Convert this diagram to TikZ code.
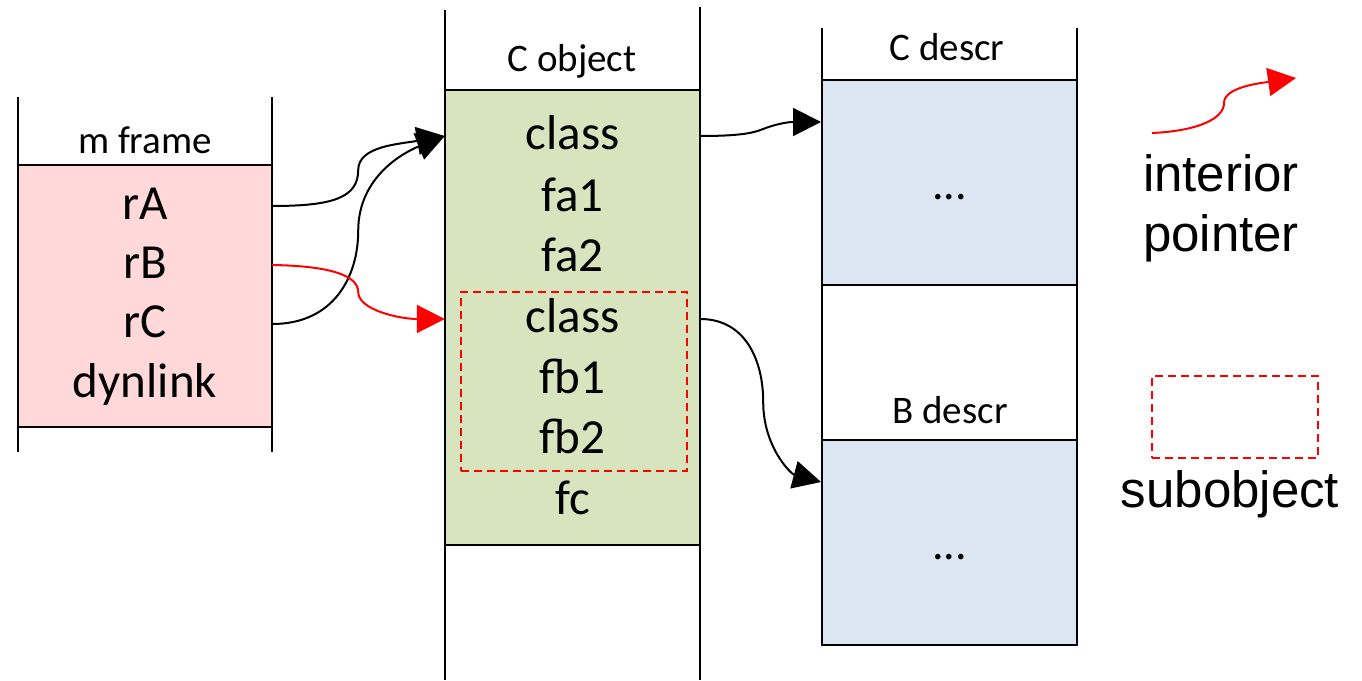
\documentclass[tikz,border=0pt]{standalone}
\usepackage{fontspec}
\setmainfont{Carlito}
\newfontfamily\legendfont{Liberation Sans}
\usetikzlibrary{arrows.meta,calc}
\definecolor{pinkfill}{HTML}{FFD9D9}
\definecolor{greenfill}{HTML}{D7E4BD}
\definecolor{bluefill}{HTML}{DCE6F2}
\definecolor{ptrred}{HTML}{FF0000}
\begin{document}
\begin{tikzpicture}[x=1pt,y=-1pt,
  frameline/.style={line width=2pt},
  areabox/.style={draw, line width=2pt, inner sep=0pt, minimum width=254pt},
  rowitem/.style={inner sep=0pt, minimum width=254pt, minimum height=58pt,
    text height=36pt, text depth=10pt, font=\fontsize{49}{52}\selectfont},
  hdr/.style={inner sep=0pt, font=\fontsize{39}{42}\selectfont},
  dots/.style={inner sep=0pt, text height=30pt, text depth=0pt, font=\fontsize{46}{48}\selectfont},
  ptr/.style={line width=2pt, -{Triangle[length=28pt,width=28pt]}},
  iptr/.style={ptr, ptrred},
  subbox/.style={draw=ptrred, line width=2pt, dash pattern=on 8pt off 5pt, inner sep=0pt},
  legtext/.style={font=\legendfont\fontsize{51}{60}\selectfont, align=center, inner sep=0pt}
]
\useasboundingbox (0,0) rectangle (1362,680);

% ---------- m frame ----------
\node[areabox, fill=pinkfill, minimum height=262pt] (mbox) at (145,296) {};
\draw[frameline] (18,97) -- (18,452);
\draw[frameline] (272,97) -- (272,452);
\node[hdr] (mhdr) at (145,140) {m frame};
\node[rowitem] (rA) at (145,206) {rA};
\node[rowitem] (rB) at (145,265) {rB};
\node[rowitem] (rC) at (145,324) {rC};
\node[rowitem] (dyn) at (145,384) {dynlink};

% ---------- C object ----------
\node[areabox, fill=greenfill, minimum width=255pt, minimum height=455pt] (cobj) at (572.5,317.5) {};
\draw[frameline] (445,10) -- (445,680);
\draw[frameline] (700,7) -- (700,680);
\node[hdr] (chdr) at (572,61) {C object};
\node[subbox, minimum width=226pt, minimum height=179pt] (sub) at (574,381.5) {};
\node[rowitem, minimum width=255pt] (c1) at (572.5,136) {class};
\node[rowitem, minimum width=255pt] (c2) at (572.5,198) {fa1};
\node[rowitem, minimum width=255pt] (c3) at (572.5,258) {fa2};
\node[rowitem, minimum width=255pt] (c4) at (572.5,319) {class};
\node[rowitem, minimum width=255pt] (c5) at (572.5,380) {fb1};
\node[rowitem, minimum width=255pt] (c6) at (572.5,440) {fb2};
\node[rowitem, minimum width=255pt] (c7) at (572.5,501) {fc};

% ---------- descriptors ----------
\node[areabox, fill=bluefill, minimum width=255pt, minimum height=205pt] (cdescr) at (949.5,182.5) {};
\node[areabox, fill=bluefill, minimum width=255pt, minimum height=205pt] (bdescr) at (949.5,542.5) {};
\node[dots] (cdots) at (949.5,184) {...};
\node[dots] (bdots) at (949.5,544) {...};
\draw[frameline] (822,28) -- (822,645);
\draw[frameline] (1077,28) -- (1077,645);
\node[hdr] (cdhdr) at (947,47) {C descr};
\node[hdr] (bdhdr) at (950,410) {B descr};

% ---------- pointers ----------
\draw[ptr] (rA.east) .. controls +(60,0) and +(0,28) .. ++(86,-36)
  .. controls +(0,-24) and +(-45,8) .. (c1.west);
\draw[ptr] (rC.east) .. controls +(62,0) and +(0,45) .. ++(86,-93)
  .. controls +(0,-55) and +(-40,16) .. (c1.west);
\draw[iptr] (rB.east) .. controls +(60,1) and +(0,-16) .. ++(86,27)
  .. controls +(0,18) and +(-45,0) .. (c4.west);
\draw[ptr] (c1.east) .. controls +(40,0) and +(-10,4) .. ++(63,-7)
  .. controls +(10,-4) and +(-35,0) .. ($(cdescr.north west)+(0,43)$);
\draw[ptr] (c4.east) .. controls +(45,0) and +(0,-42) .. ++(63,83)
  .. controls +(0,45) and +(-30,-8) .. ($(bdescr.north west)+(0,43)$);

% ---------- legend ----------
\coordinate (legA) at (1152,133);
\coordinate (legB) at (1296,78);
\draw[iptr] (legA) .. controls +(45,-2) and +(0,16) .. ++(72,-30)
  .. controls +(0,-16) and +(-35,5) .. (legB);
\node[legtext] (legip) at (1221,208) {interior\\pointer};
\node[subbox, minimum width=166pt, minimum height=82pt] (legsub) at (1235,417) {};
\node[legtext] (legso) at (1230,494) {subobject};
\end{tikzpicture}
\end{document}
